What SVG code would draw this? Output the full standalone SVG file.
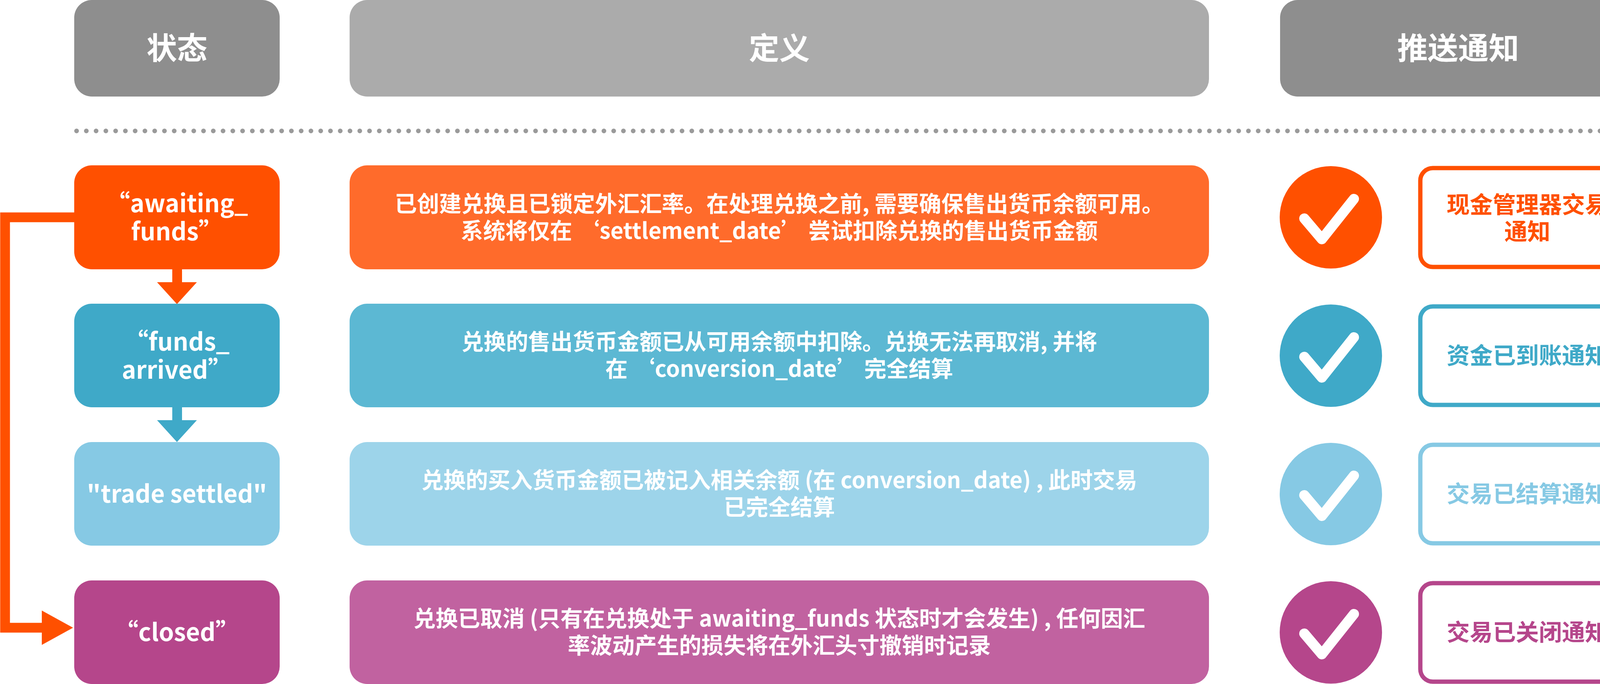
<svg xmlns="http://www.w3.org/2000/svg" width="4192" height="1750" viewBox="0 0 4192 1750">
<style>
text{font-family:"Noto Sans CJK SC","Noto Sans",sans-serif;font-weight:bold;text-anchor:middle}
.w{fill:#fff}
.h{font-size:78px}
.s{font-size:62px}
.d{font-size:57px}
.n{font-size:59px}
.ck{fill:none;stroke:#fff;stroke-width:26;stroke-linecap:round;stroke-linejoin:round}
.nb{fill:#fff;stroke-width:11}
</style>
<defs>
<path id="chk" d="M-68 3 L-23 56 L59 -47"/>
</defs>
<rect width="4192" height="1750" fill="#fff"/>
<g id="hdr-state"><rect x="190" y="0" width="526" height="247" rx="45" fill="#8e8e8e"/><text class="w h" x="453" y="152">状态</text></g>
<g id="hdr-def"><rect x="895" y="0" width="2200" height="247" rx="45" fill="#ababab"/><text class="w h" x="1995" y="152">定义</text></g>
<g id="hdr-notify"><rect x="3277" y="0" width="912" height="247" rx="45" fill="#8e8e8e"/><text class="w h" x="3733" y="152">推送通知</text></g>
<line x1="196" y1="335" x2="4192" y2="335" stroke="#9a9a9a" stroke-width="12" stroke-linecap="round" stroke-dasharray="0 25"/>

<g id="connectors">
<rect x="441" y="688" width="25" height="36" fill="#ff5000"/>
<polygon points="402,722 504,722 453,778" fill="#ff5000"/>
<rect x="441" y="1041" width="25" height="36" fill="#3fa9c8"/>
<polygon points="402,1075 504,1075 453,1131" fill="#3fa9c8"/>
<polyline points="190,556 13,556 13,1606 115,1606" fill="none" stroke="#ff5000" stroke-width="25"/>
<polygon points="107,1562 187,1606 107,1650" fill="#ff5000"/>
</g>

<g id="row1">
<rect x="190" y="423" width="526" height="266" rx="45" fill="#ff5000"/>
<text class="w s" x="453" y="543">“awaiting_</text>
<text class="w s" x="453" y="615">funds”</text>
<rect x="895" y="423" width="2200" height="266" rx="45" fill="#ff6b2b"/>
<text class="w d" x="1995" y="542">已创建兑换且已锁定外汇汇率。在处理兑换之前, 需要确保售出货币余额可用。</text>
<text class="w d" x="1995" y="611">系统将仅在 ‘settlement_date’ 尝试扣除兑换的售出货币金额</text>
<circle cx="3407" cy="556" r="131" fill="#ff5000"/><use href="#chk" x="3407" y="556" class="ck"/>
<rect x="3636" y="430" width="548" height="253" rx="32" class="nb" stroke="#ff5000"/>
<text class="n" x="3910" y="545" fill="#ff5000">现金管理器交易</text>
<text class="n" x="3910" y="614" fill="#ff5000">通知</text>
</g>

<g id="row2">
<rect x="190" y="777" width="526" height="265" rx="45" fill="#3fa9c8"/>
<text class="w s" x="453" y="897">“funds_</text>
<text class="w s" x="453" y="969">arrived”</text>
<rect x="895" y="777" width="2200" height="265" rx="45" fill="#5cb8d3"/>
<text class="w d" x="1995" y="895">兑换的售出货币金额已从可用余额中扣除。兑换无法再取消, 并将</text>
<text class="w d" x="1995" y="964">在 ‘conversion_date’ 完全结算</text>
<circle cx="3407" cy="910" r="131" fill="#3fa9c8"/><use href="#chk" x="3407" y="910" class="ck"/>
<rect x="3636" y="784" width="548" height="252" rx="32" class="nb" stroke="#3fa9c8"/>
<text class="n" x="3910" y="931" fill="#3fa9c8">资金已到账通知</text>
</g>

<g id="row3">
<rect x="190" y="1131" width="526" height="265" rx="45" fill="#86c9e4"/>
<text class="w s" x="453" y="1286">"trade settled"</text>
<rect x="895" y="1131" width="2200" height="265" rx="45" fill="#9dd4ea"/>
<text class="w d" x="1995" y="1249">兑换的买入货币金额已被记入相关余额 (在 conversion_date) , 此时交易</text>
<text class="w d" x="1995" y="1318">已完全结算</text>
<circle cx="3407" cy="1264" r="131" fill="#86c9e4"/><use href="#chk" x="3407" y="1264" class="ck"/>
<rect x="3636" y="1138" width="548" height="252" rx="32" class="nb" stroke="#86c9e4"/>
<text class="n" x="3910" y="1285" fill="#86c9e4">交易已结算通知</text>
</g>

<g id="row4">
<rect x="190" y="1485" width="526" height="265" rx="45" fill="#b5468b"/>
<text class="w s" x="453" y="1640">“closed”</text>
<rect x="895" y="1485" width="2200" height="265" rx="45" fill="#c162a0"/>
<text class="w d" x="1995" y="1603">兑换已取消 (只有在兑换处于 awaiting_funds 状态时才会发生) , 任何因汇</text>
<text class="w d" x="1995" y="1672">率波动产生的损失将在外汇头寸撤销时记录</text>
<circle cx="3407" cy="1618" r="131" fill="#b5468b"/><use href="#chk" x="3407" y="1618" class="ck"/>
<rect x="3636" y="1492" width="548" height="252" rx="32" class="nb" stroke="#b5468b"/>
<text class="n" x="3910" y="1639" fill="#b5468b">交易已关闭通知</text>
</g>
</svg>
